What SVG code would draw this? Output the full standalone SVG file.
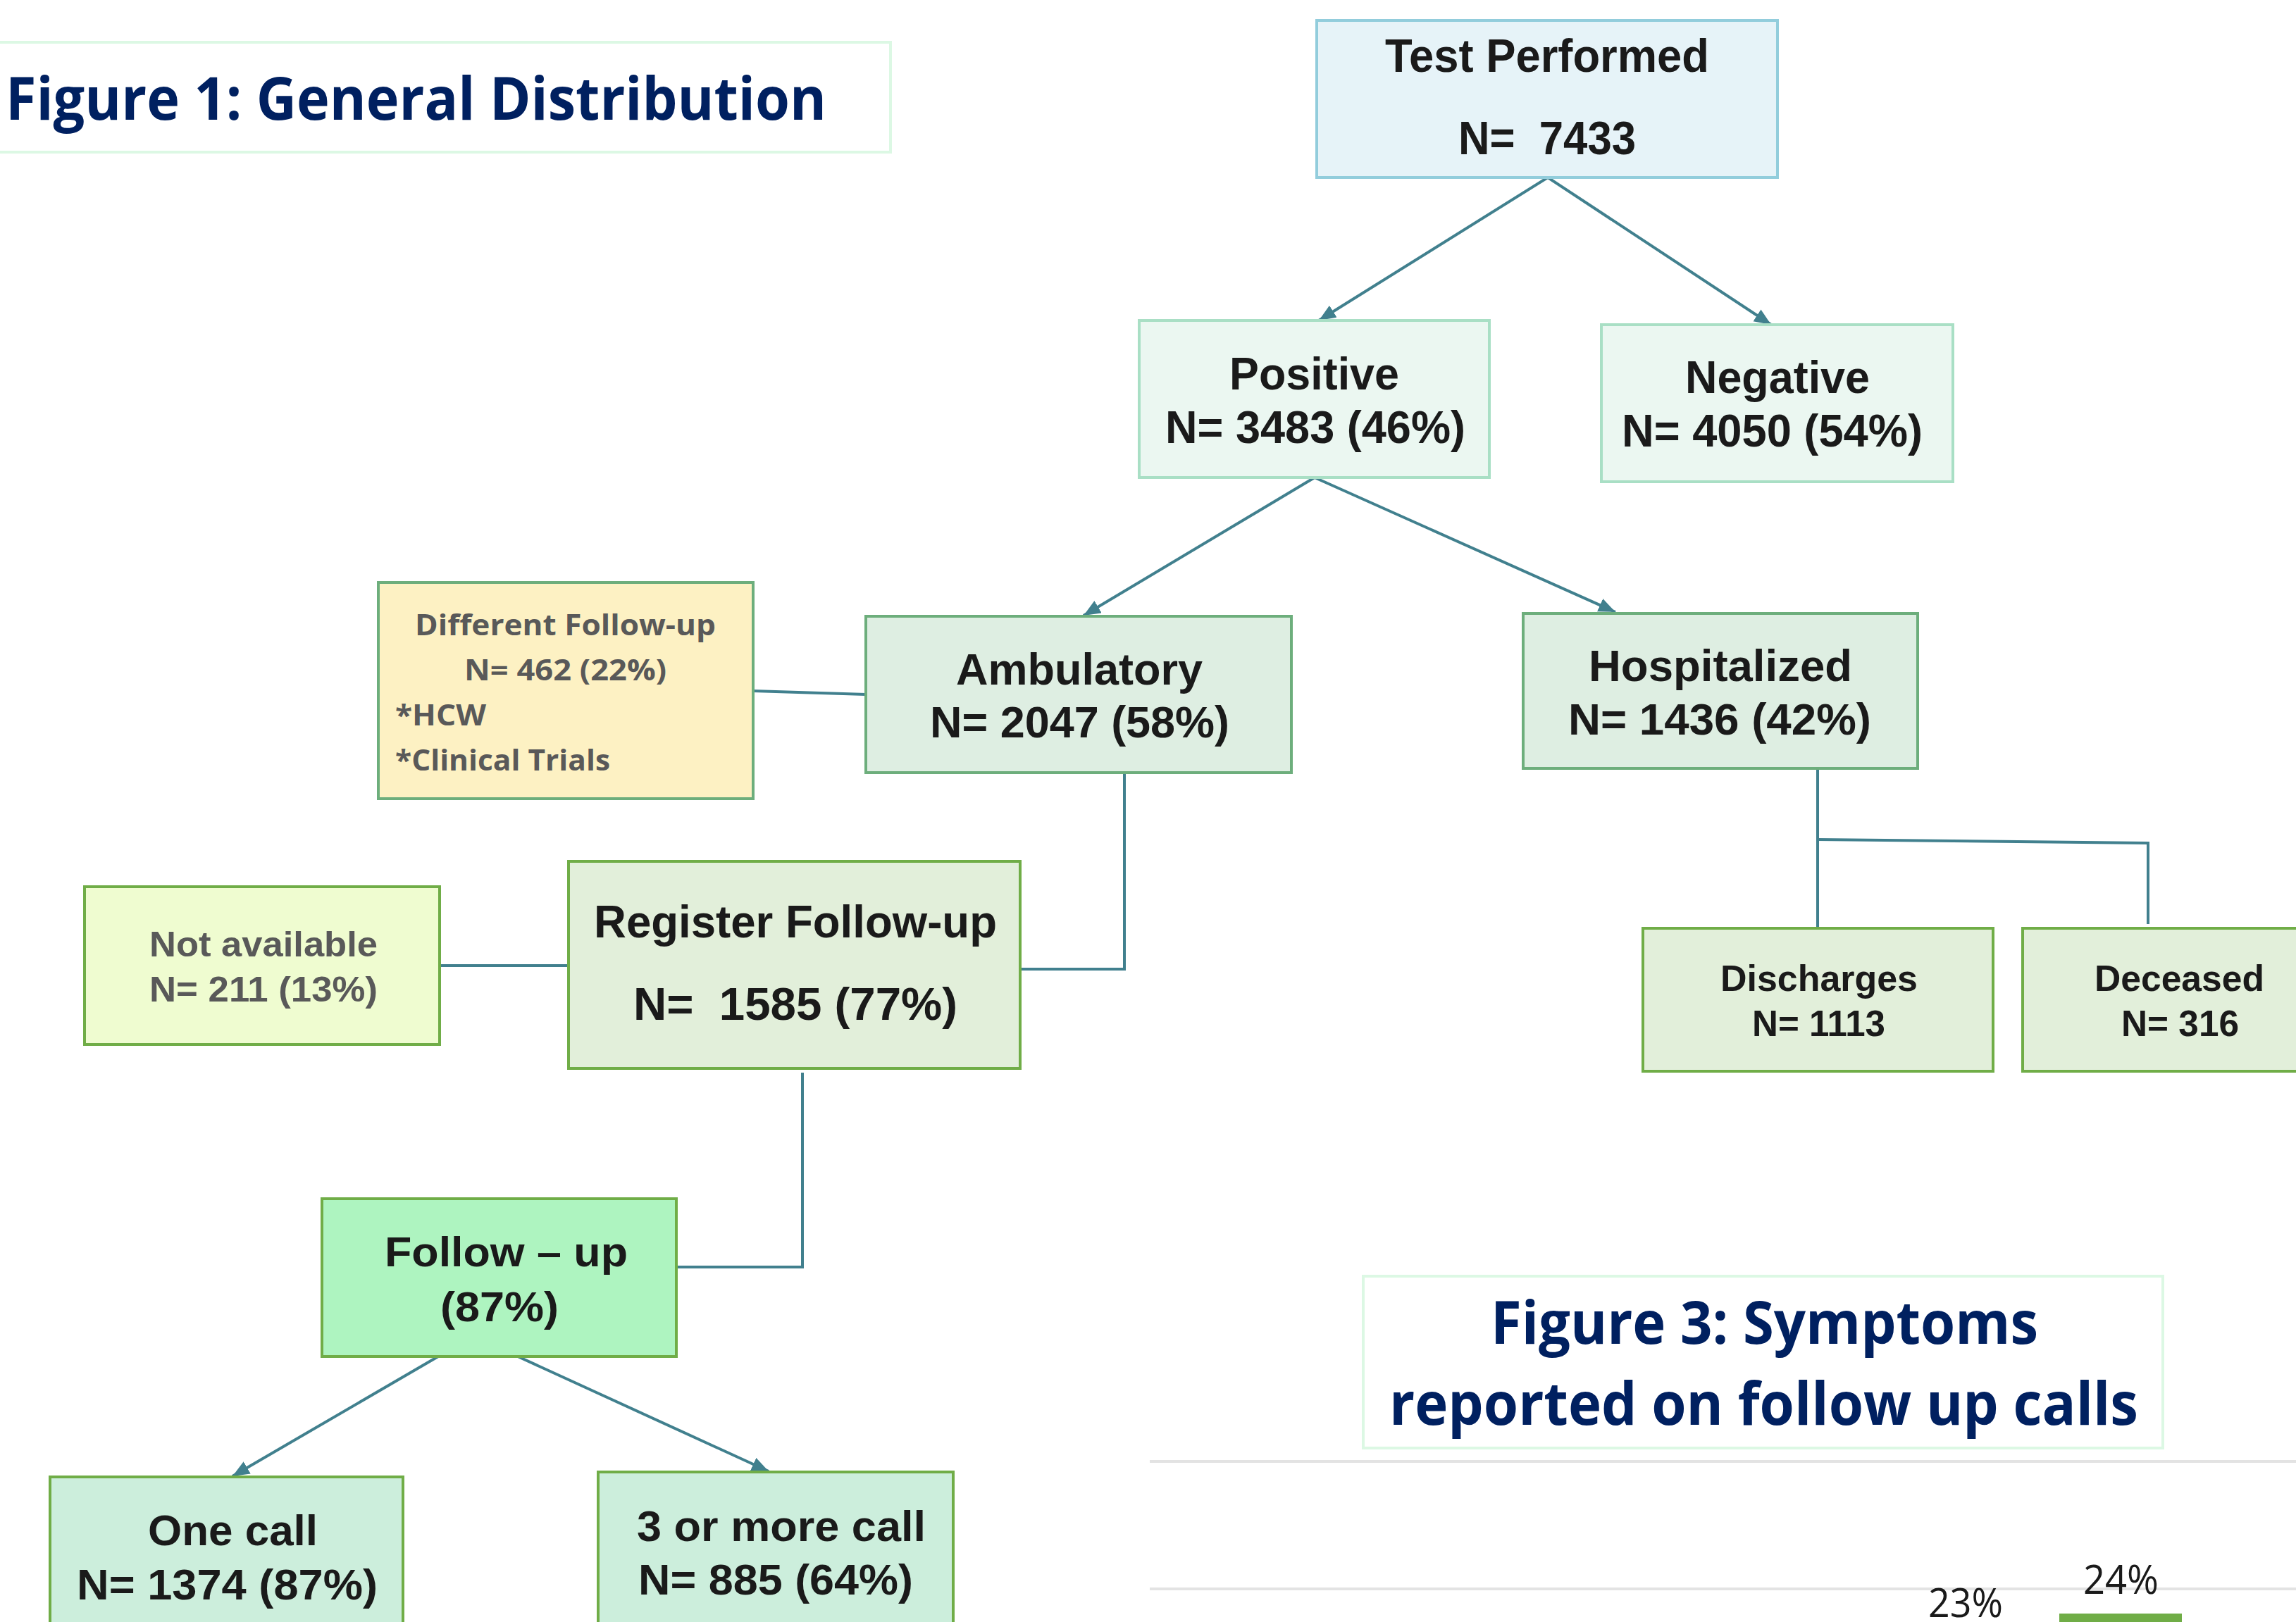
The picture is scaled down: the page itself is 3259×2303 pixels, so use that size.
<svg xmlns="http://www.w3.org/2000/svg" width="3259" height="2303" viewBox="0 0 3259 2303">
<style>
.box{stroke-width:4}
.t{font-family:"Liberation Sans",Arial,sans-serif;font-weight:700;fill:#1a1a1a;white-space:pre}
.g{font-family:"Liberation Sans",Arial,sans-serif;font-weight:700;fill:#595959}
.c{font-family:"Open Sans","Noto Sans",sans-serif;font-weight:700;fill:#595959}
.title{font-family:"Open Sans","Noto Sans",sans-serif;font-weight:700;fill:#002060}
.lbl{font-family:"Open Sans","Noto Sans",sans-serif;font-weight:400;fill:#1a1a1a}
.conn{fill:none;stroke:#41808e;stroke-width:4}
.grid{stroke:#e3e3e3;stroke-width:4}
</style>
<defs>
<marker id="arr" markerUnits="userSpaceOnUse" markerWidth="26" markerHeight="22" refX="24" refY="10" orient="auto">
<path d="M0,0 L24,10 L0,20 z" fill="#41808e"/>
</marker>
</defs>
<rect width="3259" height="2303" fill="#ffffff"/>

<g id="title1">
<rect x="-10" y="60" width="1274" height="156" fill="#ffffff" stroke="#dcf8e4" stroke-width="4"/>
<text class="title" x="8" y="170" font-size="85" textLength="1165" lengthAdjust="spacingAndGlyphs">Figure 1: General Distribution</text>
</g>

<g id="connectors">
<path class="conn" d="M2197 252 L1872 455" marker-end="url(#arr)"/>
<path class="conn" d="M2197 252 L2514 461" marker-end="url(#arr)"/>
<path class="conn" d="M1866 678 L1538 874" marker-end="url(#arr)"/>
<path class="conn" d="M1866 678 L2293 869" marker-end="url(#arr)"/>
<path class="conn" d="M1069 981 L1229 986"/>
<path class="conn" d="M1596 1097 V1376 H1448"/>
<path class="conn" d="M624 1371 H807"/>
<path class="conn" d="M1139 1523 V1799 H960"/>
<path class="conn" d="M622 1926 L330 2096" marker-end="url(#arr)"/>
<path class="conn" d="M735 1926 L1091 2089" marker-end="url(#arr)"/>
<path class="conn" d="M2580 1091 V1318"/>
<path class="conn" d="M2580 1192 L3049 1197 V1312"/>
</g>

<g id="test-performed">
<rect class="box" x="1869" y="29" width="654" height="223" fill="#e6f3f8" stroke="#92cddc"/>
<text class="t" x="1966" y="102" font-size="66" textLength="460" lengthAdjust="spacingAndGlyphs">Test Performed</text>
<text class="t" xml:space="preserve" x="2070" y="219" font-size="66" textLength="252" lengthAdjust="spacingAndGlyphs">N=  7433</text>
</g>

<g id="positive">
<rect class="box" x="1617" y="455" width="497" height="223" fill="#ebf7f1" stroke="#a9dfc5"/>
<text class="t" x="1745" y="553" font-size="64" textLength="241" lengthAdjust="spacingAndGlyphs">Positive</text>
<text class="t" x="1654" y="629" font-size="64" textLength="426" lengthAdjust="spacingAndGlyphs">N= 3483 (46%)</text>
</g>

<g id="negative">
<rect class="box" x="2273" y="461" width="499" height="223" fill="#ebf7f1" stroke="#a9dfc5"/>
<text class="t" x="2392" y="558" font-size="64" textLength="262" lengthAdjust="spacingAndGlyphs">Negative</text>
<text class="t" x="2302" y="634" font-size="64" textLength="427" lengthAdjust="spacingAndGlyphs">N= 4050 (54%)</text>
</g>

<g id="different-follow-up">
<rect class="box" x="537" y="827" width="532" height="307" fill="#fdf1c3" stroke="#6dae7c"/>
<text class="c" x="589" y="902" font-size="42" textLength="427" lengthAdjust="spacingAndGlyphs">Different Follow-up</text>
<text class="c" x="659" y="966" font-size="42" textLength="287" lengthAdjust="spacingAndGlyphs">N= 462 (22%)</text>
<text class="c" x="561" y="1030" font-size="42" textLength="129" lengthAdjust="spacingAndGlyphs">*HCW</text>
<text class="c" x="561" y="1094" font-size="42" textLength="305" lengthAdjust="spacingAndGlyphs">*Clinical Trials</text>
</g>

<g id="ambulatory">
<rect class="box" x="1229" y="875" width="604" height="222" fill="#deeee2" stroke="#6dae7c"/>
<text class="t" x="1357" y="972" font-size="63" textLength="350" lengthAdjust="spacingAndGlyphs">Ambulatory</text>
<text class="t" x="1320" y="1047" font-size="63" textLength="425" lengthAdjust="spacingAndGlyphs">N= 2047 (58%)</text>
</g>

<g id="hospitalized">
<rect class="box" x="2162" y="871" width="560" height="220" fill="#deeee2" stroke="#6dae7c"/>
<text class="t" x="2255" y="967" font-size="63" textLength="374" lengthAdjust="spacingAndGlyphs">Hospitalized</text>
<text class="t" x="2226" y="1043" font-size="63" textLength="430" lengthAdjust="spacingAndGlyphs">N= 1436 (42%)</text>
</g>

<g id="not-available">
<rect class="box" x="120" y="1259" width="504" height="224" fill="#effcd0" stroke="#70ad47"/>
<text class="g" x="212" y="1358" font-size="50" textLength="324" lengthAdjust="spacingAndGlyphs">Not available</text>
<text class="g" x="212" y="1422" font-size="50" textLength="324" lengthAdjust="spacingAndGlyphs">N= 211 (13%)</text>
</g>

<g id="register-follow-up">
<rect class="box" x="807" y="1223" width="641" height="294" fill="#e2efda" stroke="#70ad47"/>
<text class="t" x="843" y="1331" font-size="64" textLength="572" lengthAdjust="spacingAndGlyphs">Register Follow-up</text>
<text class="t" xml:space="preserve" x="899" y="1448" font-size="64" textLength="460" lengthAdjust="spacingAndGlyphs">N=  1585 (77%)</text>
</g>

<g id="discharges">
<rect class="box" x="2332" y="1318" width="497" height="203" fill="#e2efda" stroke="#70ad47"/>
<text class="t" x="2442" y="1407" font-size="52" textLength="280" lengthAdjust="spacingAndGlyphs">Discharges</text>
<text class="t" x="2487" y="1471" font-size="52" textLength="189" lengthAdjust="spacingAndGlyphs">N= 1113</text>
</g>

<g id="deceased">
<rect class="box" x="2871" y="1318" width="450" height="203" fill="#e2efda" stroke="#70ad47"/>
<text class="t" x="2973" y="1407" font-size="52" textLength="241" lengthAdjust="spacingAndGlyphs">Deceased</text>
<text class="t" x="3011" y="1471" font-size="52" textLength="167" lengthAdjust="spacingAndGlyphs">N= 316</text>
</g>

<g id="follow-up">
<rect class="box" x="457" y="1702" width="503" height="224" fill="#aef4c0" stroke="#70ad47"/>
<text class="t" x="546" y="1798" font-size="60" textLength="345" lengthAdjust="spacingAndGlyphs">Follow – up</text>
<text class="t" x="625" y="1876" font-size="60" textLength="168" lengthAdjust="spacingAndGlyphs">(87%)</text>
</g>

<g id="one-call">
<rect class="box" x="71" y="2097" width="501" height="230" fill="#cceedc" stroke="#70ad47"/>
<text class="t" x="210" y="2194" font-size="62" textLength="241" lengthAdjust="spacingAndGlyphs">One call</text>
<text class="t" x="109" y="2271" font-size="62" textLength="427" lengthAdjust="spacingAndGlyphs">N= 1374 (87%)</text>
</g>

<g id="three-or-more-call">
<rect class="box" x="849" y="2090" width="504" height="240" fill="#cceedc" stroke="#70ad47"/>
<text class="t" x="904" y="2188" font-size="62" textLength="410" lengthAdjust="spacingAndGlyphs">3 or more call</text>
<text class="t" x="906" y="2264" font-size="62" textLength="390" lengthAdjust="spacingAndGlyphs">N= 885 (64%)</text>
</g>

<g id="title3">
<rect x="1935" y="1812" width="1135" height="244" fill="#ffffff" stroke="#dcf8e4" stroke-width="4"/>
<text class="title" x="2116" y="1908" font-size="84" textLength="777" lengthAdjust="spacingAndGlyphs">Figure 3: Symptoms</text>
<text class="title" x="1972" y="2023" font-size="84" textLength="1063" lengthAdjust="spacingAndGlyphs">reported on follow up calls</text>
</g>

<g id="chart">
<line class="grid" x1="1632" y1="2075" x2="3259" y2="2075"/>
<line class="grid" x1="1632" y1="2256" x2="3259" y2="2256"/>
<rect x="2923" y="2291" width="174" height="14" fill="#70ad47"/>
<text class="lbl" x="2737" y="2296" font-size="57" textLength="106" lengthAdjust="spacingAndGlyphs">23%</text>
<text class="lbl" x="2957" y="2263" font-size="57" textLength="107" lengthAdjust="spacingAndGlyphs">24%</text>
</g>
</svg>
